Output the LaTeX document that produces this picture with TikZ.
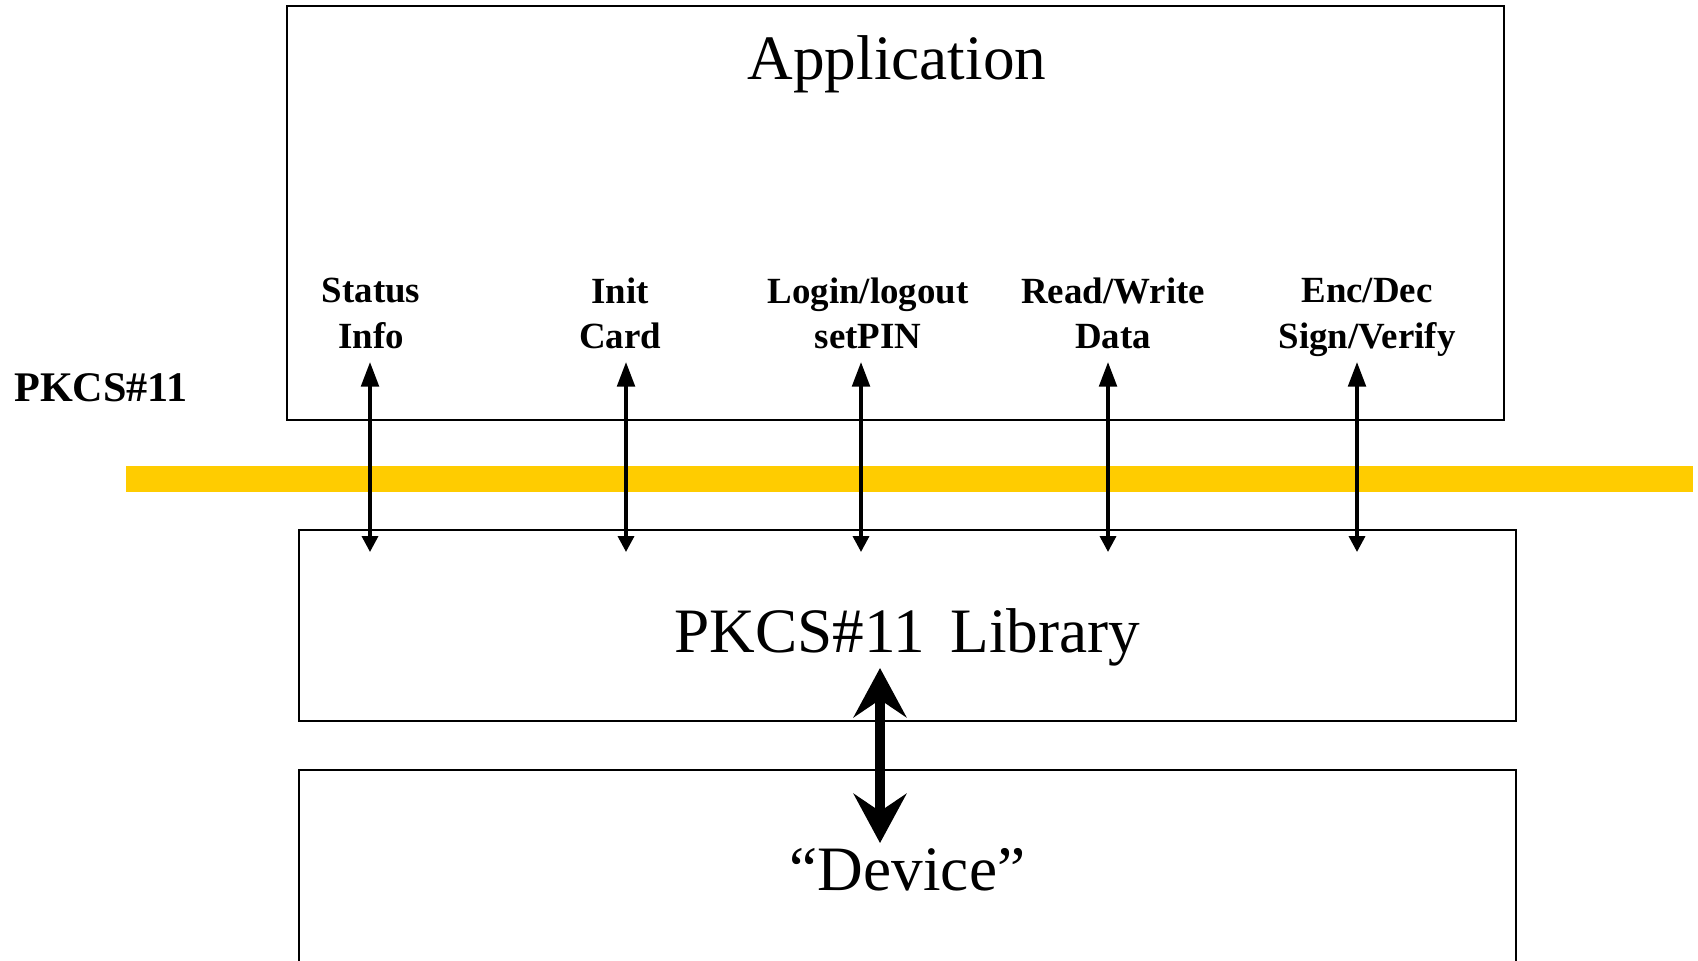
\documentclass[tikz,border=0pt]{standalone}
\usepackage{fontspec}
\setmainfont{Liberation Serif}
\usetikzlibrary{arrows.meta}
\definecolor{busyellow}{HTML}{FFCC00}

\begin{document}
\begin{tikzpicture}[
        box/.style={draw, line width=0.7pt, minimum width=12.17cm, inner sep=0pt},
        call/.style={font=\fontsize{10.5}{13}\selectfont\bfseries, align=center, inner sep=0pt,
            execute at begin node=\strut, execute at end node=\strut},
        big/.style={font=\fontsize{18}{22}\selectfont, inner sep=0pt},
        link/.style={line width=1pt, {Triangle[length=4.5pt,width=4.5pt]}-{Triangle[length=7pt,width=5pt]}},
        thick link/.style={line width=2.8pt, {Stealth[length=14pt,width=15pt,inset=5pt]}-{Stealth[length=14pt,width=15pt,inset=5pt]}}
    ]
        \useasboundingbox (0,0) rectangle (16.98,-9.60);
        \clip (0,0) rectangle (16.98,-9.60);
        % API line between application and library
        \coordinate (busL) at (1.26,-4.79);
        \coordinate (busR) at (16.93,-4.79);
        \draw[busyellow, line width=0.26cm] (busL) -- (busR);
        \node[font=\fontsize{12}{14}\selectfont\bfseries, inner sep=0pt] (api) at (1.01,-3.88) {PKCS\#11};

        % layers
        \node[box, minimum height=4.135cm] (app) at (8.955,-2.13) {};
        \node[big] (apptitle) at (8.97,-0.64) {Application};
        \node[box, minimum height=1.91cm] (lib) at (9.075,-6.255) {};
        \node[big] (libtitle) at (9.075,-6.37) {PKCS\#11\hspace{0.4em}Library};
        \node[box, minimum height=2.5cm] (dev) at (9.075,-8.95) {};
        \node[big] (devtitle) at (9.075,-8.70) {“Device”};

        % function groups
        \foreach \lx/\ax/\name/\txt in {3.71/3.70/stat/{Status\\Info},
                6.20/6.26/init/{Init\\Card},
                8.68/8.61/login/{Login/logout\\setPIN},
                11.13/11.08/rw/{Read/Write\\Data},
                13.67/13.57/enc/{Enc/Dec\\Sign/Verify}} {
            \node[call] (\name) at (\lx,-3.20) {\txt};
            \coordinate (\name-top) at (\ax,-3.62);
            \coordinate (\name-bot) at (\ax,-5.52);
            \draw[link] (\name-bot) -- (\name-top);
        }

        \coordinate (libport) at (8.80,-6.68);
        \coordinate (devport) at (8.80,-8.43);
        \draw[thick link] (devport) -- (libport);
    \end{tikzpicture}
\end{document}
